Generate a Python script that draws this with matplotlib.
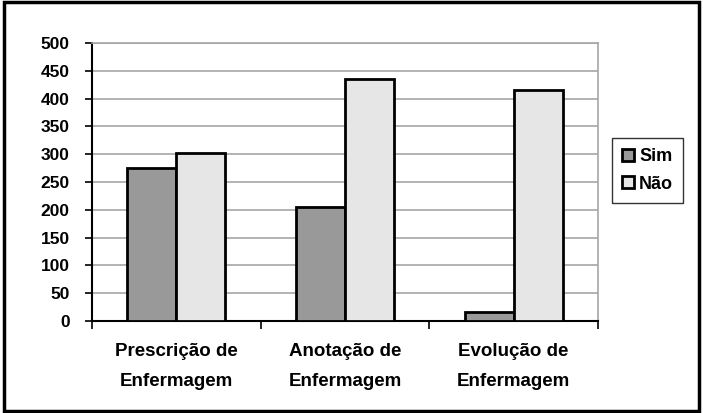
import matplotlib
matplotlib.use("Agg")
import matplotlib.pyplot as plt
import numpy as np
from matplotlib.patches import Rectangle

categories = ["Prescrição de\nEnfermagem", "Anotação de\nEnfermagem", "Evolução de\nEnfermagem"]
series_names = ["Sim", "Não"]
sim_values = [275, 205, 16]
nao_values = [302, 435, 415]
y_ticks = [0, 50, 100, 150, 200, 250, 300, 350, 400, 450, 500]

plt.rcParams['font.family'] = ['Liberation Sans', 'DejaVu Sans']
plt.rcParams['font.weight'] = 'bold'

fig = plt.figure(figsize=(7.03, 4.13), dpi=100)
ax = fig.add_axes([92/703, 1-321/413, (598-92)/703, (321-43)/413])

x = np.arange(len(categories))
w = 0.29
b1 = ax.bar(x - w/2, sim_values, w, color="#999999", edgecolor="black", linewidth=2, label=series_names[0], zorder=3)
b2 = ax.bar(x + w/2, nao_values, w, color="#e6e6e6", edgecolor="black", linewidth=2, label=series_names[1], zorder=3)

ax.set_xlim(-0.5, 2.5)
ax.set_ylim(0, 500)
ax.set_yticks(y_ticks)
ax.set_yticklabels([str(v) for v in y_ticks], fontsize=12.5, fontweight='bold')
ax.yaxis.grid(True, color="#a6a6a6", linewidth=1.2, zorder=0)
ax.set_axisbelow(True)

ax.set_xticks([-0.5, 0.5, 1.5, 2.5])
ax.set_xticklabels([])
ax.set_xticks(x, minor=True)
ax.set_xticklabels(categories, minor=True, fontsize=13.5, fontweight='bold', linespacing=2.0)
ax.tick_params(axis='x', which='minor', length=0, pad=16)
ax.tick_params(axis='x', which='major', length=6, width=1.2, direction='out')
ax.tick_params(axis='y', length=5, width=1.2, direction='out', pad=11)

for s in ['top', 'right']:
    ax.spines[s].set_color("#a6a6a6")
    ax.spines[s].set_linewidth(1.2)
for s in ['left', 'bottom']:
    ax.spines[s].set_color("black")
    ax.spines[s].set_linewidth(1.5)

leg = fig.legend(handles=[b1, b2], labels=series_names,
                 loc='upper left', bbox_to_anchor=(612/703, 1-138/413),
                 frameon=True, fancybox=False, fontsize=13,
                 handlelength=0.65, handleheight=0.65, handletextpad=0.3,
                 borderpad=0.55, labelspacing=0.6, borderaxespad=0)
leg.get_frame().set_edgecolor("black")
leg.get_frame().set_linewidth(1.0)
for t in leg.get_texts():
    t.set_fontweight('bold')

fig.patches.append(Rectangle((0.005, 0.004), 0.99, 0.99, transform=fig.transFigure,
                             fill=False, edgecolor="black", linewidth=2.5))

fig.savefig("out.png", dpi=100)
